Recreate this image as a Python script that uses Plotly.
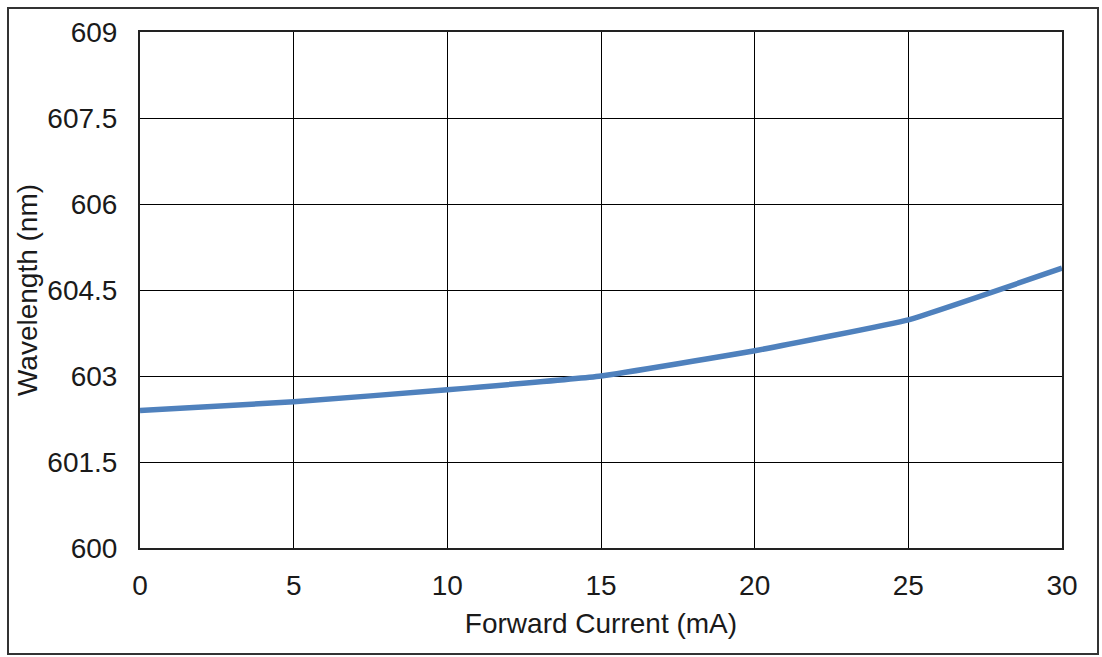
import plotly.graph_objects as go

current_ma = [0, 5, 10, 15, 20, 25, 30]
wavelength_nm = [602.40, 602.55, 602.76, 603.0, 603.44, 603.98, 604.88]
y_ticks = [600, 601.5, 603, 604.5, 606, 607.5, 609]
y_tick_labels = ["600", "601.5", "603", "604.5", "606", "607.5", "609"]
x_ticks = [0, 5, 10, 15, 20, 25, 30]

W, H = 1102, 657
L, R, T, B = 140, 40, 32, 109
pw, ph = W - L - R, H - T - B

fig = go.Figure()
fig.add_trace(go.Scatter(
    x=current_ma, y=wavelength_nm, mode="lines",
    line=dict(color="#4F81BD", width=5.5, shape="spline", smoothing=0.3),
    showlegend=False, hoverinfo="x+y",
))

font = dict(family="Liberation Sans, Arial, sans-serif", size=28, color="#1a1a1a")

fig.update_layout(
    width=W, height=H,
    margin=dict(l=L, r=R, t=T, b=B, pad=0),
    paper_bgcolor="white", plot_bgcolor="white",
    font=font,
    xaxis=dict(
        range=[0, 30], tickvals=x_ticks, ticktext=[str(v) for v in x_ticks],
        tickfont=font,
        showgrid=True, gridcolor="black", gridwidth=1,
        showline=True, linecolor="#222", linewidth=2, mirror=True,
        zeroline=False, ticks="", ticklabelstandoff=11,
        title=dict(text="Forward Current (mA)", font=font, standoff=14),
    ),
    yaxis=dict(
        range=[600, 609], tickvals=y_ticks, ticktext=y_tick_labels,
        tickfont=font,
        showgrid=True, gridcolor="black", gridwidth=1,
        showline=True, linecolor="#222", linewidth=2, mirror=True,
        zeroline=False, ticks="", ticklabelstandoff=15,
        title=dict(text="Wavelength (nm)", font=font, standoff=2),
    ),
)

# outer frame around the whole chart
fig.add_shape(
    type="rect", xref="paper", yref="paper",
    x0=(8 - L) / pw, x1=(W - 4 - L) / pw,
    y0=-(H - 3 - T - ph) / ph, y1=1 + (T - 8) / ph,
    line=dict(color="#333", width=2), fillcolor="rgba(0,0,0,0)", layer="below",
)

fig.write_html(
    "out.html",
    config={"displayModeBar": False},
    post_script="document.body.style.margin='0px';document.body.style.overflow='hidden';",
)
